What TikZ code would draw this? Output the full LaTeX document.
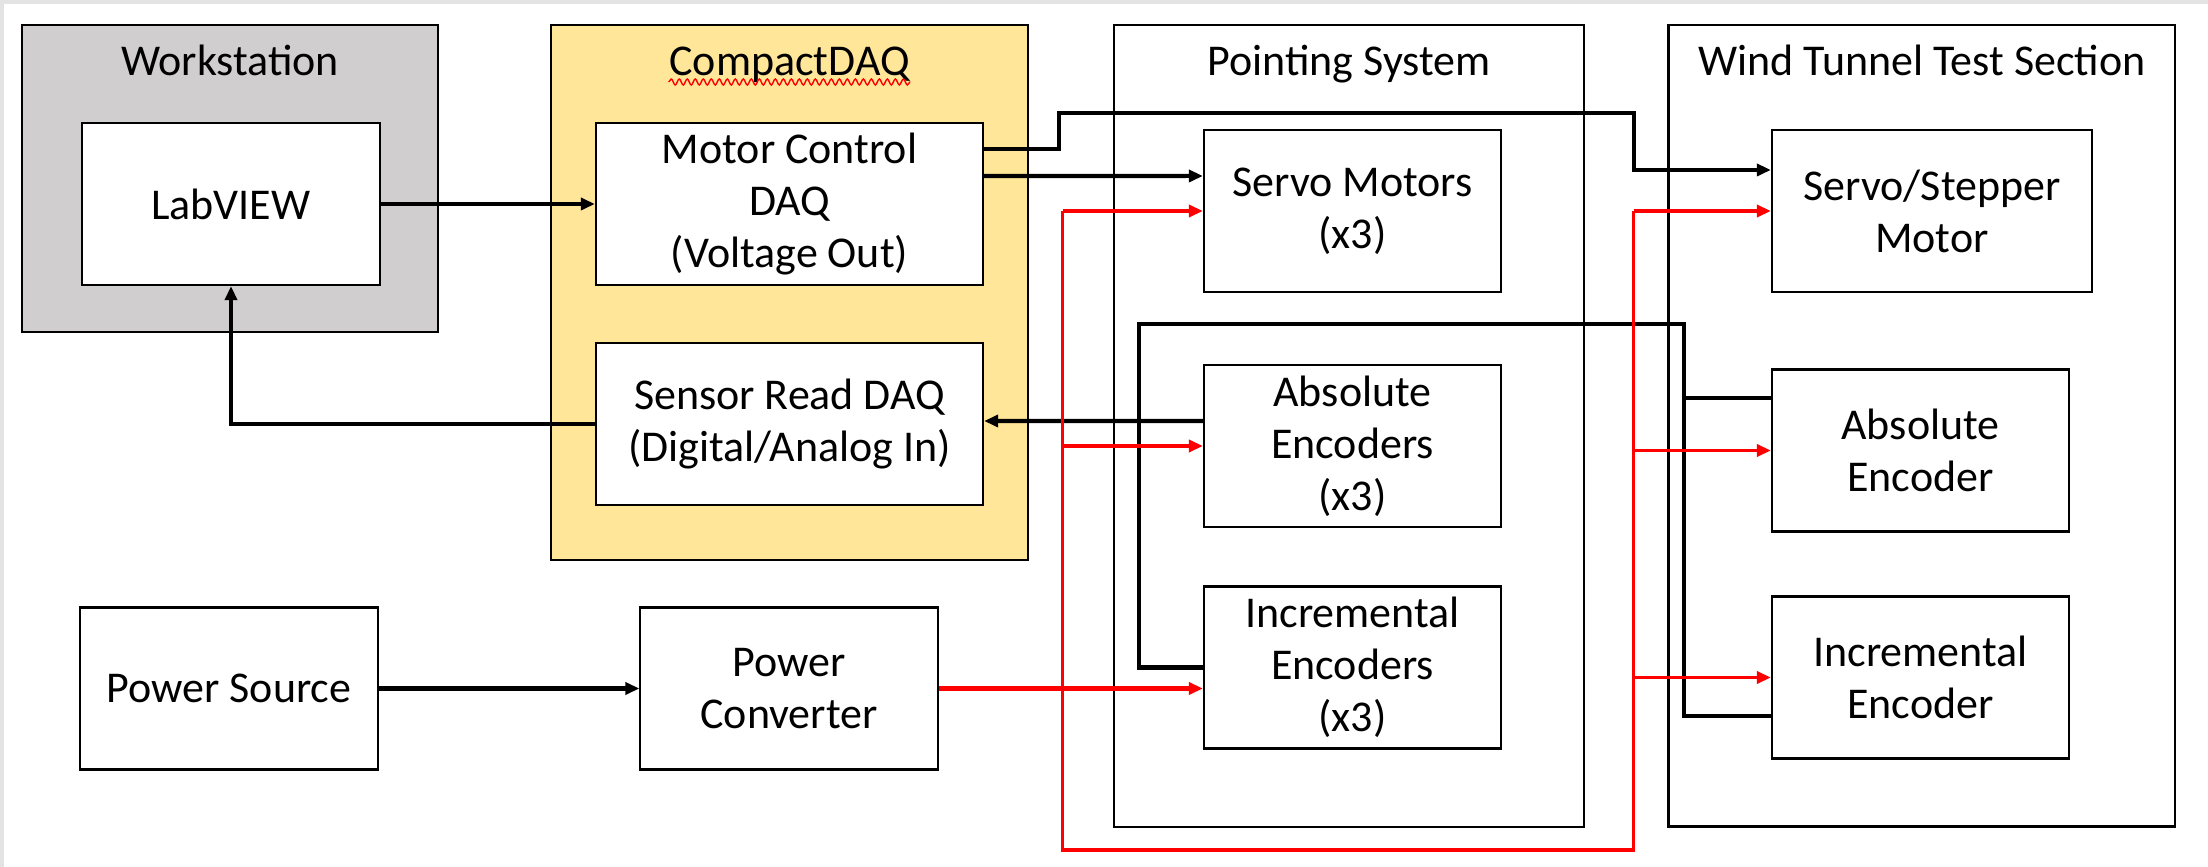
\documentclass[tikz,border=0pt]{standalone}
\usepackage{fontspec}
\setmainfont{Carlito}
\usetikzlibrary{arrows.meta,decorations.pathmorphing}
\definecolor{wsgray}{HTML}{D0CECE}
\definecolor{daqyellow}{HTML}{FFE699}
\definecolor{framegray}{HTML}{E3E3E3}
\tikzset{
  group/.style={draw, line width=0.6pt},
  title/.style={inner sep=0pt, anchor=base, font=\fontsize{12.5}{14.8}\selectfont},
  block/.style={draw, fill=white, line width=0.6pt, align=center, inner sep=0pt, minimum width=2.97cm, minimum height=1.62cm, font=\fontsize{12.5}{14.8}\selectfont},
  wideblock/.style={block, minimum width=3.87cm},
  wire/.style={line width=1.15pt, black},
  power/.style={line width=1pt, red},
  arrowed/.style={-{Triangle[length=1.4mm, width=1.2mm]}}
}
\begin{document}
\begin{tikzpicture}[x=0.01cm, y=-0.01cm]
  \useasboundingbox (0,0) rectangle (2208,867);
  \fill[framegray] (0,0) rectangle (2208,4);
  \fill[framegray] (0,0) rectangle (4,867);

  \draw[group, fill=wsgray] (22,25) rectangle (438,332);
  \node[title] (wstitle) at (230,76) {Workstation};
  \node[block] (labview) at (231,204) {LabVIEW};

  \draw[group, fill=daqyellow] (551,25) rectangle (1028,560);
  \node[title] (daqtitle) at (789.5,76) {CompactDAQ};
  \draw[red, line width=0.4pt, decorate, decoration={snake, amplitude=0.3mm, segment length=0.8mm}] ([yshift=-0.6mm]daqtitle.base west) -- ([yshift=-0.6mm]daqtitle.base east);
  \node[wideblock] (motorctrl) at (789.5,204) {Motor Control\\DAQ\\(Voltage Out)};
  \node[wideblock] (sensorread) at (789.5,424) {Sensor Read DAQ\\(Digital/Analog In)};

  \draw[group] (1114,25) rectangle (1584,827);
  \node[title] (pstitle) at (1349,76) {Pointing System};
  \node[block] (servos) at (1352.5,211) {Servo Motors\\(x3)};
  \node[block] (absenc) at (1352.5,446) {Absolute\\Encoders\\(x3)};
  \node[block] (incenc) at (1352.5,667.5) {Incremental\\Encoders\\(x3)};

  \draw[group] (1668.5,25) rectangle (2175,826.5);
  \node[title] (wttitle) at (1922,76) {Wind Tunnel Test Section};
  \node[block, minimum width=3.2cm] (stepper) at (1932,211) {Servo/Stepper\\Motor};
  \node[block] (absenc2) at (1920.5,450.5) {Absolute\\Encoder};
  \node[block] (incenc2) at (1920.5,677.5) {Incremental\\Encoder};

  \node[block] (powersrc) at (229,688.5) {Power Source};
  \node[block] (powerconv) at (789,688.5) {Power\\Converter};

  \coordinate (ctrlbus) at (1634,113);
  \coordinate (encbus) at (1684,324);
  \coordinate (pwrleft) at (1062.5,850);
  \coordinate (pwrright) at (1633.5,850);

  \draw[wire, arrowed] (labview.east) -- (motorctrl.west);
  \draw[wire, arrowed] (sensorread.west) -| (labview.south);
  \draw[wire, arrowed] ([yshift=2.8mm]motorctrl.east) -- ([yshift=3.5mm]servos.west);
  \draw[wire, arrowed] ([yshift=5.5mm]motorctrl.east) -- ++(7.5mm,0) |- (ctrlbus) |- ([yshift=4.1mm]stepper.west);
  \draw[wire, arrowed] ([yshift=2.5mm]absenc.west) -- ([yshift=0.3mm]sensorread.east);
  \draw[wire] (incenc.west) -- ++(-6.4mm,0) |- (encbus) |- ([yshift=-3.85mm]incenc2.west);
  \draw[wire] ([yshift=5.25mm]absenc2.west) -- ++(-8.85mm,0);
  \draw[wire, arrowed] (powersrc.east) -- (powerconv.west);

  \draw[power] (pwrleft |- servos.west) -- (pwrleft) -- (pwrright) -- (pwrright |- stepper.west);
  \draw[power, line width=1.5pt, arrowed] (powerconv.east) -- (powerconv.east -| incenc.west);
  \draw[power, arrowed] (pwrleft |- servos.west) -- (servos.west);
  \draw[power, arrowed] (pwrleft |- absenc.west) -- (absenc.west);
  \draw[power, arrowed] (pwrright |- stepper.west) -- (stepper.west);
  \draw[power, arrowed] (pwrright |- absenc2.west) -- (absenc2.west);
  \draw[power, arrowed] (pwrright |- incenc2.west) -- (incenc2.west);
\end{tikzpicture}
\end{document}
